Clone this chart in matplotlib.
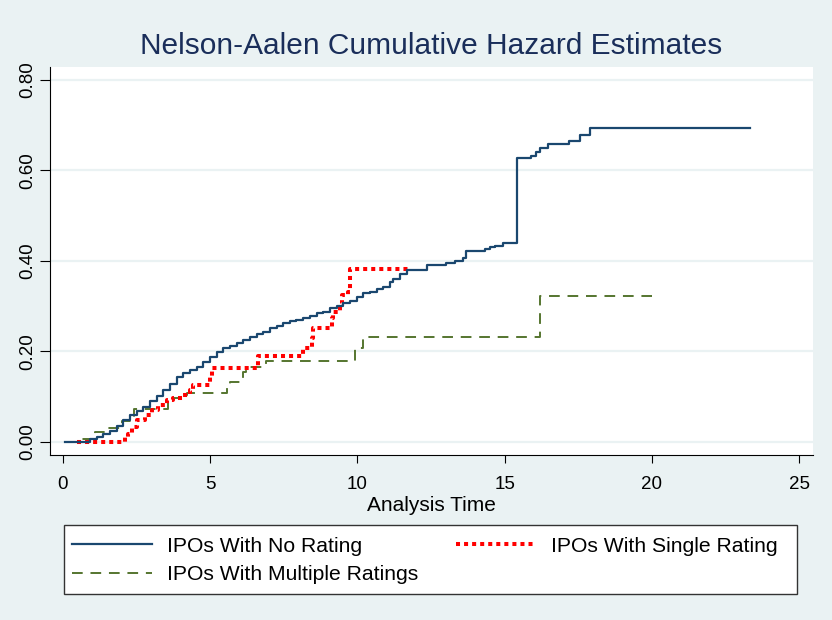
import matplotlib
matplotlib.use("Agg")
import matplotlib.pyplot as plt
from matplotlib.patches import Rectangle
from matplotlib.ticker import FormatStrFormatter

plt.rcParams['font.family'] = ['Liberation Sans', 'DejaVu Sans']

# Data
no_rating_t = [0.07, 0.92, 1.14, 1.37, 1.6, 1.82, 2.05, 2.28, 2.5, 2.73, 2.95, 3.18, 3.41, 3.63,
               3.86, 4.09, 4.31, 4.54, 4.77, 4.99, 5.22, 5.44, 5.67, 5.9, 6.12, 6.35, 6.58, 6.8,
               7.03, 7.26, 7.48, 7.71, 7.93, 8.16, 8.39, 8.61, 8.84, 9.07, 9.29, 9.52, 9.75, 9.97,
               10.2, 10.42, 10.65, 10.88, 11.1, 11.22, 11.45, 11.67, 12.35, 13.0, 13.3, 13.59,
               13.7, 14.32, 14.5, 14.67, 14.95, 15.41, 15.91, 16.08, 16.2, 16.48, 17.2, 17.55,
               17.9, 23.33]
no_rating_h = [0, 0.005, 0.011, 0.017, 0.024, 0.035, 0.047, 0.059, 0.068, 0.077, 0.089, 0.102,
               0.114, 0.128, 0.144, 0.151, 0.159, 0.166, 0.177, 0.188, 0.199, 0.208, 0.212, 0.218,
               0.225, 0.231, 0.238, 0.243, 0.251, 0.256, 0.262, 0.266, 0.269, 0.273, 0.278, 0.284,
               0.288, 0.295, 0.3, 0.306, 0.312, 0.321, 0.328, 0.332, 0.337, 0.343, 0.354, 0.361,
               0.371, 0.38, 0.392, 0.395, 0.4, 0.406, 0.422, 0.426, 0.43, 0.434, 0.439, 0.627,
               0.632, 0.642, 0.649, 0.658, 0.666, 0.679, 0.693, 0.693]

single_t = [0.46, 2.1, 2.2, 2.33, 2.5, 2.78, 3.01, 3.24, 3.52, 3.75, 4.09, 4.31, 4.42, 4.99, 5.05,
            6.63, 8.16, 8.44, 8.5, 9.12, 9.18, 9.41, 9.46, 9.69, 9.75, 11.73]
single_h = [0, 0.01, 0.018, 0.033, 0.048, 0.059, 0.07, 0.081, 0.092, 0.096, 0.103, 0.114, 0.125,
            0.144, 0.164, 0.19, 0.207, 0.229, 0.252, 0.273, 0.288, 0.305, 0.325, 0.332, 0.381, 0.381]

multiple_t = [0.13, 0.63, 1.09, 1.54, 1.99, 2.4, 3.57, 3.75, 4.2, 5.56, 5.67, 6.12, 6.23, 6.9,
              9.91, 10.18, 16.2, 19.99]
multiple_h = [0, 0.007, 0.022, 0.03, 0.046, 0.072, 0.085, 0.096, 0.107, 0.122, 0.133, 0.155,
              0.166, 0.179, 0.207, 0.231, 0.322, 0.322]

x_ticks = [0, 5, 10, 15, 20, 25]
y_ticks = [0.0, 0.2, 0.4, 0.6, 0.8]
labels = ["IPOs With No Rating", "IPOs With Multiple Ratings", "IPOs With Single Rating"]

BG = '#EAF2F3'
W, H = 832, 620
fig = plt.figure(figsize=(W / 100, H / 100), dpi=100, facecolor=BG)
ax = fig.add_axes([50 / W, 1 - 455 / H, (813.3 - 50) / W, (455 - 66.7) / H])
ax.set_facecolor('white')

ax.set_xlim(-0.44, 25.48)
ax.set_ylim(-0.0294, 0.8296)

for yv in y_ticks:
    ax.axhline(yv, color=BG, lw=1.6, zorder=0)

l1, = ax.plot(no_rating_t, no_rating_h, drawstyle='steps-post', color='#1a476f', lw=1.6, zorder=3)
l2, = ax.plot(multiple_t, multiple_h, drawstyle='steps-post', color='#55752f', lw=1.4,
              linestyle=(0, (5.5, 4)), zorder=2)
l3, = ax.plot(single_t, single_h, drawstyle='steps-post', color='#ff0000', lw=2.9,
              linestyle=(0, (1, 1)), zorder=2)

for s in ['top', 'right']:
    ax.spines[s].set_visible(False)
for s in ['left', 'bottom']:
    ax.spines[s].set_color('#000000')
    ax.spines[s].set_linewidth(0.8)

ax.set_xticks(x_ticks)
ax.set_yticks(y_ticks)
ax.yaxis.set_major_formatter(FormatStrFormatter('%.2f'))
ax.tick_params(axis='x', length=6, width=0.8, labelsize=13.5, pad=9, colors='black')
ax.tick_params(axis='y', length=7, width=0.8, labelsize=13.5, pad=3, colors='black')
for lab in ax.get_yticklabels():
    lab.set_rotation(90)
    lab.set_va('center')

ax.set_xlabel("Analysis Time", fontsize=15, labelpad=2)

fig.text(431 / W, 1 - 46 / H, "Nelson-Aalen Cumulative Hazard Estimates", ha='center', va='center',
         fontsize=21.5, color='#1a2e5a')

# legend box
fig.patches.append(Rectangle((64.3 / W, 1 - 594 / H), (797 - 64.3) / W, (594 - 525) / H,
                             transform=fig.transFigure, facecolor='white', edgecolor='#333333',
                             lw=1.0, zorder=1))
leg = fig.legend([l1, l2, l3], labels, ncol=2, loc='upper left',
                 bbox_to_anchor=(72 / W, 1 - 536.5 / H), frameon=False, borderpad=0,
                 fontsize=15.2, handlelength=3.8, handletextpad=0.7, columnspacing=1.78,
                 labelspacing=0.45, borderaxespad=0)
leg.set_zorder(2)

fig.savefig("out.png", dpi=100, facecolor=BG)
